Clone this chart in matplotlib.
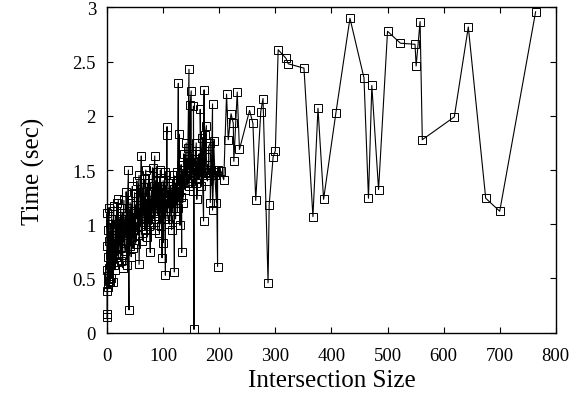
import matplotlib
matplotlib.use("Agg")
import matplotlib.pyplot as plt

# intersection size vs. time (dense part is approximate)
size_dense = [
    0, 0, 0, 0, 0, 0, 1, 1, 2, 2, 2, 3, 3, 3, 4, 4, 5, 5, 6, 6, 7, 7, 8, 8,
    10, 10, 11, 11, 12, 12, 14, 14, 15, 15, 17, 17, 18, 18, 20, 20, 22, 22,
    24, 24, 25, 25, 27, 27, 28, 28, 30, 30, 32, 32, 34, 34, 36, 36, 38, 38,
    39, 39, 41, 41, 43, 43, 45, 45, 47, 47, 49, 49, 51, 51, 53, 53, 55, 55,
    57, 57, 59, 59, 61, 61, 63, 63, 65, 65, 67, 67, 69, 69, 71, 71, 73, 73,
    75, 75, 77, 77, 79, 79, 81, 81, 83, 83, 85, 85, 87, 87, 89, 89, 91, 91,
    93, 93, 95, 95, 97, 97, 98, 98, 100, 100, 101, 101, 103, 103, 104, 104,
    106, 106, 107, 107, 109, 109, 111, 111, 113, 113, 115, 115, 117, 117,
    119, 119, 120, 120, 122, 122, 124, 124, 126, 126, 127, 127, 129, 129,
    130, 130, 132, 132, 133, 133, 135, 135, 137, 137, 139, 139, 141, 141,
    143, 143, 144, 144, 146, 146, 148, 148, 150, 150, 152, 152, 154, 154,
    155, 155, 157, 157, 159, 159, 160, 160, 162, 162, 164, 164, 166, 166,
    168, 168, 170, 170, 172, 172, 173, 173, 175, 175, 177, 177, 179, 179,
    181, 181, 184, 184, 186, 186, 188, 188, 190, 190, 192, 192, 195, 195,
    197, 197,
]
time_dense = [
    0.14, 0.17, 0.38, 0.58, 0.80, 1.10, 0.45, 0.70, 0.52, 0.95, 0.42, 0.60,
    1.15, 0.48, 0.55, 0.85, 0.72, 0.47, 0.62, 1.00, 0.50, 0.80, 0.68, 1.05,
    0.47, 0.90, 0.75, 1.12, 1.17, 0.62, 0.85, 0.58, 1.00, 0.72, 0.65, 1.20,
    0.95, 0.80, 1.23, 0.70, 0.88, 1.05, 0.66, 1.15, 0.93, 0.78, 1.10, 0.72,
    0.60, 0.98, 1.22, 0.85, 0.75, 1.05, 0.95, 1.30, 0.62, 1.15, 1.50, 0.90,
    0.21, 1.05, 0.80, 1.20, 1.00, 0.70, 1.35, 0.88, 1.10, 0.78, 1.29, 0.95,
    0.82, 1.18, 1.05, 1.40, 0.90, 1.25, 1.45, 0.63, 1.15, 0.98, 1.63, 1.05,
    0.85, 1.30, 1.42, 1.10, 0.95, 1.25, 1.50, 1.00, 1.20, 0.88, 1.38, 1.05,
    0.98, 1.45, 0.74, 1.20, 1.30, 1.00, 1.52, 1.15, 1.05, 1.35, 1.63, 0.95,
    1.22, 1.40, 1.10, 1.48, 1.08, 1.30, 1.35, 0.92, 1.20, 1.50, 0.98, 1.30,
    0.69, 1.15, 1.40, 0.83, 1.25, 1.05, 1.48, 1.15, 0.53, 1.35, 1.25, 1.82,
    1.90, 1.05, 1.30, 1.15, 1.45, 1.00, 1.20, 1.35, 0.95, 1.28, 1.40, 1.15,
    1.30, 1.45, 0.56, 1.25, 1.38, 1.05, 1.48, 1.20, 1.15, 1.38, 2.30, 1.40,
    1.83, 1.30, 0.99, 1.45, 1.25, 1.55, 0.74, 1.40, 1.50, 1.20, 1.42, 1.65,
    1.32, 1.50, 1.75, 1.45, 1.38, 1.60, 1.52, 1.70, 2.43, 1.35, 1.48, 2.10,
    2.23, 1.40, 1.65, 1.55, 1.31, 2.09, 0.03, 1.50, 1.45, 1.60, 1.75, 1.38,
    1.23, 1.48, 1.57, 1.42, 1.65, 1.50, 1.48, 2.06, 1.35, 1.58, 1.80, 1.45,
    1.03, 1.55, 2.24, 1.50, 1.48, 1.82, 1.91, 1.62, 1.40, 1.55, 1.48, 1.72,
    1.75, 1.20, 1.45, 1.50, 2.11, 1.13, 1.48, 1.77, 1.50, 1.45, 1.20, 1.48,
    0.61, 1.50,
]
size_sparse = [
    203, 208, 213, 216, 221, 225, 226, 232, 236, 254, 260, 265, 274, 278,
    287, 289, 296, 300, 305, 319, 323, 351, 367, 376, 386, 408, 433, 458,
    466, 472, 484, 500, 523, 549, 551, 558, 562, 619, 644, 675, 700, 764,
]
time_sparse = [
    1.49, 1.41, 2.20, 1.78, 2.02, 1.93, 1.58, 2.22, 1.69, 2.05, 1.93, 1.22,
    2.04, 2.16, 0.46, 1.18, 1.62, 1.68, 2.61, 2.53, 2.48, 2.44, 1.07, 2.07,
    1.23, 2.03, 2.90, 2.35, 1.24, 2.28, 1.32, 2.78, 2.67, 2.66, 2.46, 2.87,
    1.78, 1.99, 2.82, 1.24, 1.12, 2.96,
]

x_ticks = list(range(0, 801, 100))
y_ticks = [0, 0.5, 1, 1.5, 2, 2.5, 3]

plt.rcParams["font.family"] = ["Liberation Serif", "DejaVu Serif"]

fig = plt.figure(figsize=(5.82, 4.02), dpi=100)
ax = fig.add_axes([0.184, 0.170, 0.771, 0.809])

xs = size_dense + size_sparse
ys = time_dense + time_sparse
# gnuplot lets the markers at x=0 spill over the border
ax.plot(xs, ys, "-", color="black", lw=0.8,
        marker="s", markersize=5.8, markerfacecolor="none",
        markeredgecolor="black", markeredgewidth=0.7, clip_on=False)

ax.set_xlim(0, 800)
ax.set_ylim(0, 3)
ax.set_xticks(x_ticks)
ax.set_yticks(y_ticks)
ax.set_yticklabels(["0", "0.5", "1", "1.5", "2", "2.5", "3"])
ax.tick_params(direction="in", length=4, width=0.8, top=True, right=True,
               labelsize=13.5)
ax.tick_params(axis="x", pad=10)
ax.tick_params(axis="y", pad=8)
for s in ax.spines.values():
    s.set_linewidth(1.0)

ax.set_xlabel("Intersection Size", fontsize=18, labelpad=4)
ax.set_ylabel("Time (sec)", fontsize=18, labelpad=20)

fig.savefig("out.png", dpi=100)
